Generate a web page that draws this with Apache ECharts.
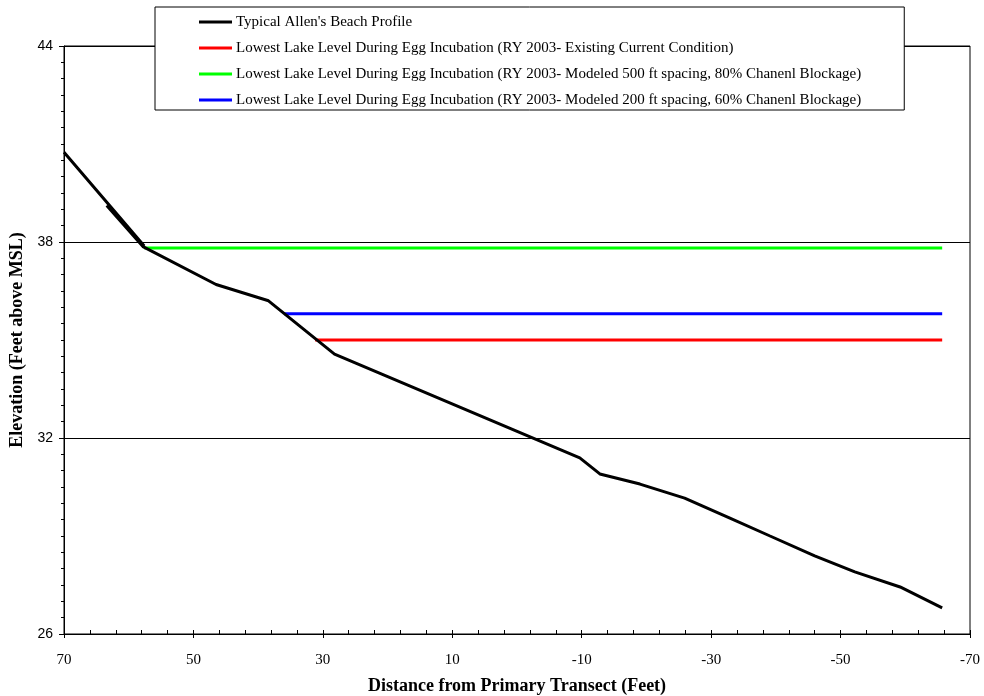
<!DOCTYPE html>
<html><head><meta charset="utf-8">
<script src="https://cdn.jsdelivr.net/npm/echarts@6/dist/echarts.min.js"></script>
<style>html,body{margin:0;padding:0;background:#fff}#c{width:984px;height:696px}</style>
</head><body><div id="c"></div>
<script>
const seriesNames = [
  "Typical Allen's Beach Profile",
  "Lowest Lake Level During Egg Incubation (RY 2003- Existing Current Condition)",
  "Lowest Lake Level During Egg Incubation (RY 2003- Modeled 500 ft spacing, 80% Chanenl Blockage)",
  "Lowest Lake Level During Egg Incubation (RY 2003- Modeled 200 ft spacing, 60% Chanenl Blockage)"
];
const profileX = [70, 57.6, 63.4, 57.8, 46.5, 38.4, 28.2, -9.7, -12.8, -19, -25.9, -32.9, -39.1, -46, -52.2, -59.2, -65.7];
const profileY = [40.75, 37.88, 39.12, 37.86, 36.7, 36.2, 34.57, 31.39, 30.9, 30.59, 30.16, 29.55, 29.0, 28.39, 27.9, 27.44, 26.8];
const existingX = [31.2, -65.7];
const existingY = [35.0, 35.0];
const modeled500X = [57.6, -65.7];
const modeled500Y = [37.82, 37.82];
const modeled200X = [36.0, -65.7];
const modeled200Y = [35.8, 35.8];
const colors = ['#000000', '#ff0000', '#00ff00', '#0000ff'];

const zip = (xs, ys) => xs.map((x, i) => [x, ys[i]]);
const font = 'Liberation Serif';
const chart = echarts.init(document.getElementById('c'));
chart.setOption({
  animation: false,
  backgroundColor: '#fff',
  grid: {left: 64, right: 14, top: 46, bottom: 62, outerBoundsMode: 'none', containLabel: false,
         show: true, borderColor: '#000', borderWidth: 1, backgroundColor: '#fff'},
  legend: {
    orient: 'vertical', left: 155, top: 7, z: 10,
    padding: [7, 43, 2, 44],
    icon: 'rect', itemWidth: 33, itemHeight: 3, itemGap: 10,
    backgroundColor: '#fff', borderColor: '#000', borderWidth: 1, borderRadius: 0,
    textStyle: {fontFamily: font, fontSize: 15, lineHeight: 16, color: '#000', padding: [0, 0, 0, -1]},
    data: seriesNames
  },
  xAxis: [{
    type: 'value', inverse: true, min: -70, max: 70, interval: 20,
    name: 'Distance from Primary Transect (Feet)', nameLocation: 'middle', nameGap: 43,
    nameTextStyle: {fontFamily: font, fontSize: 18, fontWeight: 'bold', color: '#000'},
    axisLine: {show: true, onZero: false, lineStyle: {color: '#000', width: 1}},
    axisTick: {show: true, inside: true, length: 4, lineStyle: {color: '#000'}},
    minorTick: {show: true, splitNumber: 5, length: 4, lineStyle: {color: '#000'}},
    axisLabel: {fontFamily: font, fontSize: 15, color: '#000', margin: 19},
    splitLine: {show: false}
  }, {
    type: 'value', inverse: true, min: -70, max: 70, interval: 20, position: 'bottom',
    axisLine: {show: false, onZero: false}, axisLabel: {show: false}, splitLine: {show: false},
    axisTick: {show: true, inside: false, length: 4, lineStyle: {color: '#000'}}
  }],
  yAxis: [{
    type: 'value', min: 26, max: 44, interval: 6,
    name: 'Elevation (Feet above MSL)', nameLocation: 'middle', nameGap: 35,
    nameTextStyle: {fontFamily: font, fontSize: 18, fontWeight: 'bold', color: '#000'},
    axisLine: {show: true, onZero: false, lineStyle: {color: '#000', width: 1}},
    axisTick: {show: true, inside: false, length: 5, lineStyle: {color: '#000'}},
    axisLabel: {fontFamily: 'Liberation Sans', fontSize: 14, color: '#000', margin: 11},
    splitLine: {show: true, lineStyle: {color: '#000', width: 1}}
  }, {
    type: 'value', min: 26, max: 44, interval: 6, position: 'left',
    axisLine: {show: false, onZero: false}, axisLabel: {show: false}, splitLine: {show: false},
    axisTick: {show: false},
    minorTick: {show: true, splitNumber: 12, length: 3, lineStyle: {color: '#000'}}
  }],
  series: [
    {name: seriesNames[0], type: 'line', data: zip(profileX, profileY), symbol: 'none', lineStyle: {color: colors[0], width: 3}, itemStyle: {color: colors[0]}, z: 3},
    {name: seriesNames[1], type: 'line', data: zip(existingX, existingY), symbol: 'none', lineStyle: {color: colors[1], width: 3}, itemStyle: {color: colors[1]}, z: 2},
    {name: seriesNames[2], type: 'line', data: zip(modeled500X, modeled500Y), symbol: 'none', lineStyle: {color: colors[2], width: 3}, itemStyle: {color: colors[2]}, z: 2},
    {name: seriesNames[3], type: 'line', data: zip(modeled200X, modeled200Y), symbol: 'none', lineStyle: {color: colors[3], width: 3}, itemStyle: {color: colors[3]}, z: 2}
  ]
});
</script></body></html>
